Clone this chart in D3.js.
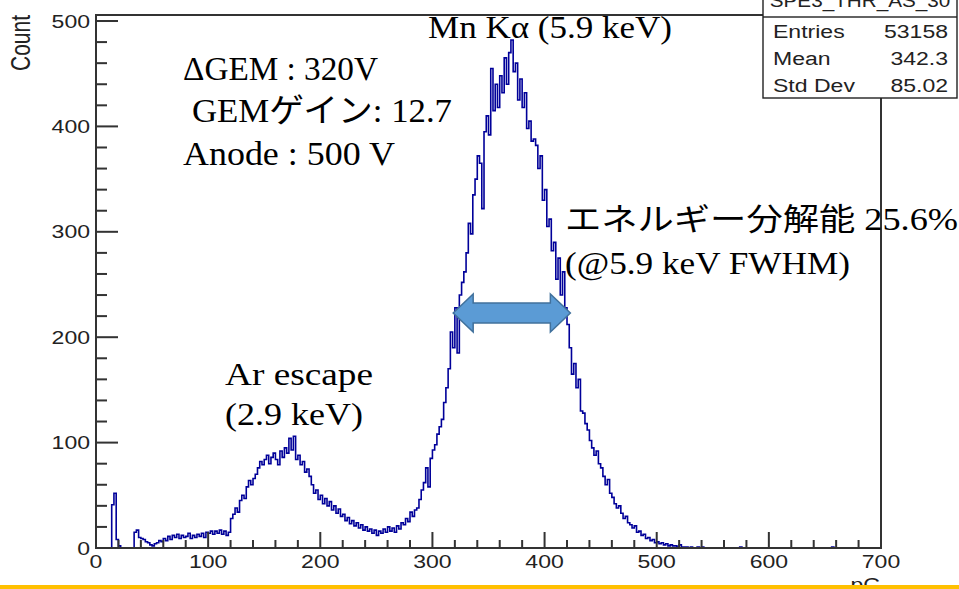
<!DOCTYPE html>
<html>
<head>
<meta charset="utf-8">
<script src="https://cdn.jsdelivr.net/npm/d3@7"></script>
<style>
  body { margin: 0; background: #fff; }
  svg { display: block; }
</style>
</head>
<body>
<svg id="chart" width="959" height="589"></svg>
<script>
// histogram contents, 2 pC per bin starting at 0 pC
let binWidth = 2;
let counts = [
  0, 0, 0, 0, 0, 0, 0, 41, 52, 8,
  2, 0, 0, 0, 0, 0, 0, 15, 17, 10,
  9, 8, 6, 5, 3, 2, 4, 5, 7, 6,
  9, 7, 11, 8, 12, 10, 13, 9, 12, 10,
  11, 14, 9, 12, 10, 13, 11, 14, 10, 15,
  14, 16, 13, 16, 14, 17, 13, 16, 12, 15,
  28, 32, 38, 34, 45, 50, 47, 58, 64, 60,
  66, 70, 76, 82, 79, 84, 88, 80, 86, 90,
  84, 79, 92, 86, 95, 90, 104, 93, 106, 84,
  88, 79, 82, 72, 75, 68, 60, 52, 55, 46,
  50, 42, 47, 40, 44, 36, 40, 33, 37, 30,
  32, 26, 29, 23, 26, 21, 24, 19, 22, 17,
  20, 16, 18, 14, 17, 12, 16, 14, 18, 15,
  20, 16, 19, 15, 21, 18, 24, 22, 28, 25,
  34, 30, 36, 38, 46, 55, 62, 76, 58, 85,
  93, 98, 108, 115, 122, 138, 152, 170, 205, 190,
  228, 185, 240, 252, 262, 280, 308, 298, 335, 350,
  372, 365, 322, 395, 410, 392, 455, 415, 440, 418,
  448, 432, 465, 440, 470, 482, 452, 460, 425, 445,
  418, 432, 398, 405, 386, 388, 382, 360, 372, 330,
  340, 305, 312, 282, 290, 255, 275, 240, 262, 228,
  212, 190, 165, 175, 152, 160, 130, 128, 118, 112,
  102, 95, 88, 92, 80, 76, 68, 60, 65, 52,
  48, 42, 38, 40, 33, 28, 30, 24, 22, 19,
  21, 15, 16, 12, 13, 9, 10, 7, 8, 5,
  6, 4, 5, 3, 4, 2, 3, 2, 2, 1,
  3, 1, 1, 1, 0, 1, 0, 0, 1, 0,
  1, 0, 0, 0, 0, 0, 0, 0, 0, 0,
  0, 0, 0, 0, 0, 0, 0, 1, 0, 0,
  0, 0, 0, 0, 0, 0, 0, 0, 0, 0,
  0, 0, 0, 0, 0, 0, 0, 0, 0, 0,
  0, 0, 0, 0, 0, 0, 0, 0, 0, 0,
  0, 0, 0, 0, 0, 0, 0, 0, 1, 0,
  0, 0, 0, 0, 0, 0, 0, 0, 0, 0,
  0, 0, 0, 0, 0, 0, 0, 0, 0, 0
];

let xTicks = [0, 100, 200, 300, 400, 500, 600, 700];
let yTicks = [0, 100, 200, 300, 400, 500];
let statsLabels = ["Entries", "Mean", "Std Dev"];
let statsValues = ["53158", "342.3", "85.02"];

// FWHM arrow: from / to (pC) and level (count)
let fwhmLo = 318.5, fwhmHi = 423, fwhmLevel = 223;

// set the dimensions of the frame
let margin = {top: 15, right: 78, bottom: 41, left: 96},
    width = 959 - margin.left - margin.right,
    height = 589 - margin.top - margin.bottom;

let x = d3.scaleLinear().domain([0, 700]).range([margin.left, margin.left + width]);
let y = d3.scaleLinear().domain([0, 505.7]).range([margin.top + height, margin.top]);

let svg = d3.select("#chart");
let sansFont = "'Liberation Sans', Arial, sans-serif";
let serifFont = "'Liberation Serif', 'Noto Sans CJK JP', serif";
let stretch = 1.28; // ROOT canvas was pasted a bit wide
let axisColor = "#333";
let tw = 2; // tick / frame thickness

svg.append("rect").attr("width", 959).attr("height", 589).attr("fill", "#fff");

// histogram as a step line
let pts = counts.map(function(c, i) { return [i * binWidth, c]; });
pts.push([700, 0]);
let histLine = d3.line()
    .x(function(d) { return x(d[0]); })
    .y(function(d) { return y(d[1]); })
    .curve(d3.curveStepAfter);

svg.append("path")
    .datum(pts)
    .attr("d", histLine)
    .attr("fill", "none")
    .attr("stroke", "#000099")
    .attr("stroke-width", 1.6);

// frame
svg.append("rect")
    .attr("x", x(0)).attr("y", y(505.7))
    .attr("width", x(700) - x(0)).attr("height", y(0) - y(505.7))
    .attr("fill", "none")
    .attr("stroke", axisColor)
    .attr("stroke-width", tw);

// ticks pointing inwards like ROOT (major every 100, minor every 20)
svg.append("g").selectAll("rect")
  .data(d3.range(0, 501, 20))
  .join("rect")
    .attr("x", x(0))
    .attr("y", function(d) { return y(d) - tw / 2; })
    .attr("width", function(d) { return d % 100 === 0 ? 22 : 11; })
    .attr("height", tw)
    .attr("fill", axisColor);

svg.append("g").selectAll("rect")
  .data(d3.range(0, 701, 20))
  .join("rect")
    .attr("x", function(d) { return x(d) - tw / 2; })
    .attr("y", function(d) { return y(0) - (d % 100 === 0 ? 16 : 8); })
    .attr("width", tw)
    .attr("height", function(d) { return d % 100 === 0 ? 16 : 8; })
    .attr("fill", axisColor);

// tick labels
yTicks.forEach(function(v) {
  svg.append("text")
      .attr("transform", "translate(90," + (y(v) + 6.5) + ") scale(" + stretch + ",1)")
      .attr("text-anchor", "end")
      .attr("font-family", sansFont).attr("font-size", 18).attr("fill", "#222")
      .text(v);
});
xTicks.forEach(function(v) {
  svg.append("text")
      .attr("transform", "translate(" + x(v) + ",568) scale(" + stretch + ",1)")
      .attr("text-anchor", "middle")
      .attr("font-family", sansFont).attr("font-size", 18).attr("fill", "#222")
      .text(v);
});

// axis titles
svg.append("text")
    .attr("transform", "translate(30,15) rotate(-90) scale(1," + stretch + ")")
    .attr("text-anchor", "end")
    .attr("font-family", sansFont).attr("font-size", 21).attr("fill", "#222")
    .text("Count");
svg.append("text")
    .attr("transform", "translate(880,591) scale(" + stretch + ",1)")
    .attr("text-anchor", "end")
    .attr("font-family", sansFont).attr("font-size", 18).attr("fill", "#222")
    .text("pC");

// stats box
let box = svg.append("g");
box.append("rect")
    .attr("x", 763).attr("y", -20).attr("width", 194).attr("height", 118)
    .attr("fill", "#fff").attr("stroke", "#222").attr("stroke-width", 1.4);
box.append("rect")
    .attr("x", 763).attr("y", 16.3).attr("width", 194).attr("height", 1.4)
    .attr("fill", "#222");
box.append("text")
    .attr("transform", "translate(860,7) scale(1.15,1)")
    .attr("text-anchor", "middle")
    .attr("font-family", sansFont).attr("font-size", 18).attr("fill", "#222")
    .text("SPE3_THR_AS_30");
statsLabels.forEach(function(s, i) {
  let by = 38 + i * 27;
  box.append("text")
      .attr("transform", "translate(773," + by + ") scale(" + stretch + ",1)")
      .attr("font-family", sansFont).attr("font-size", 18).attr("fill", "#222")
      .text(s);
  box.append("text")
      .attr("transform", "translate(948," + by + ") scale(" + stretch + ",1)")
      .attr("text-anchor", "end")
      .attr("font-family", sansFont).attr("font-size", 18).attr("fill", "#222")
      .text(statsValues[i]);
});

// FWHM double arrow
let ax0 = x(fwhmLo), ax1 = x(fwhmHi), ay = y(fwhmLevel);
let head = 20, hh = 19, sh = 10;
let arrow = d3.path();
arrow.moveTo(ax0, ay);
arrow.lineTo(ax0 + head, ay - hh);
arrow.lineTo(ax0 + head, ay - sh);
arrow.lineTo(ax1 - head, ay - sh);
arrow.lineTo(ax1 - head, ay - hh);
arrow.lineTo(ax1, ay);
arrow.lineTo(ax1 - head, ay + hh);
arrow.lineTo(ax1 - head, ay + sh);
arrow.lineTo(ax0 + head, ay + sh);
arrow.lineTo(ax0 + head, ay + hh);
arrow.closePath();
svg.append("path")
    .attr("d", arrow.toString())
    .attr("fill", "#5b9bd5")
    .attr("stroke", "#41719c")
    .attr("stroke-width", 1.5);

// annotations
function note(txt, tx, ty, size, len) {
  svg.append("text")
      .attr("x", tx).attr("y", ty)
      .attr("font-family", serifFont).attr("font-size", size)
      .attr("textLength", len).attr("lengthAdjust", "spacingAndGlyphs")
      .attr("fill", "#000")
      .text(txt);
}
note("Mn Kα (5.9 keV)", 428, 38, 31, 244);
note("ΔGEM : 320V", 183, 80, 33, 195);
note("GEMゲイン: 12.7", 192, 122, 33, 260);
note("Anode : 500 V", 183, 165, 33, 212);
note("エネルギー分解能 25.6%", 565, 230, 31, 393);
note("(@5.9 keV FWHM)", 565, 274, 31, 285);
note("Ar escape", 225, 385, 32, 148);
note("(2.9 keV)", 225, 425, 32, 138);

// bottom slide bar
svg.append("rect").attr("x", 0).attr("y", 585).attr("width", 959).attr("height", 4).attr("fill", "#ffc000");
</script>
</body>
</html>
